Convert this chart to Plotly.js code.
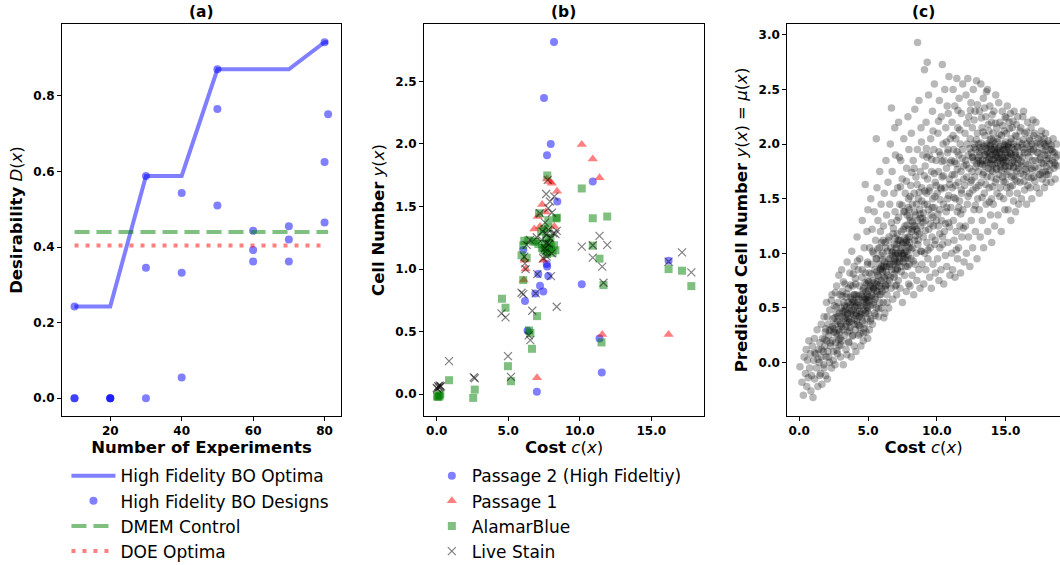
<!DOCTYPE html>
<html>
<head>
<meta charset="utf-8">
<script src="https://cdn.plot.ly/plotly-3.0.1.min.js"></script>
<style>html,body{margin:0;padding:0;background:#fff}#chart{width:1060px;height:565px}</style>
</head>
<body>
<div id="chart"></div>
<script>
// ---------- Panel (a) ----------
const designBatch = [10,10,10,20,20,20,30,30,30,40,40,40,50,50,50,60,60,60,70,70,70,80,80,80,81];
const designValue = [0.243,0,0,0,0,0,0.588,0.345,0,0.543,0.332,0.055,0.870,0.765,0.510,0.443,0.392,0.362,0.455,0.420,0.362,0.942,0.625,0.465,0.751];
const optimaBatch = [10,20,30,40,50,60,70,80,81];
const optimaValue = [0.243,0.243,0.588,0.588,0.870,0.870,0.870,0.942,0.942];
const dmemX = [10,81];
const dmemY = [0.440,0.440];
const doeX = [10,80];
const doeY = [0.404,0.404];

// ---------- Panel (b) ----------
const p2Cost = [8.2,7.5,7.97,7.71,10.91,8.43,6.05,7.69,7.72,7.1,7.8,7.22,7.45,6.89,6.17,10.14,6.35,11.38,11.54,7.0,16.21];
const p2Cell = [2.815,2.367,2.0,1.91,1.70,1.54,1.152,1.04,1.02,0.96,0.944,0.866,0.82,0.805,0.745,0.878,0.507,0.446,0.173,0.019,1.067];
const p1Cost = [10.14,10.91,11.38,7.71,8.04,7.9,8.41,7.37,7.62,7.06,6.82,7.22,8.22,7.45,6.21,6.14,6.08,11.57,16.21,7.01];
const p1Cell = [1.996,1.88,1.73,1.72,1.686,1.70,1.622,1.515,1.455,1.42,1.32,1.34,1.34,1.07,1.0,1.07,0.912,0.478,0.478,0.131];
const abCost = [7.73,10.14,10.91,11.92,8.41,7.15,7.8,8.34,7.45,7.6,7.75,7.9,8.1,8.3,7.55,7.85,8.0,7.35,7.7,8.2,7.65,7.95,7.3,7.5,7.8,7.1,6.9,6.12,6.4,6.75,5.93,6.29,6.05,10.91,11.38,11.66,6.05,4.56,4.81,7.01,6.45,6.55,6.66,11.52,4.98,5.19,0.86,2.66,2.55,0.02,0.15,0.08,0.25,0.2,16.21,17.15,17.8];
const abCell = [1.748,1.644,1.406,1.42,1.41,1.446,1.39,1.405,1.15,1.17,1.14,1.16,1.13,1.15,1.2,1.21,1.18,1.17,1.12,1.19,1.25,1.25,1.3,1.32,1.33,1.2,1.22,1.226,1.23,1.22,1.11,1.09,1.19,1.187,1.083,0.872,0.912,0.763,0.691,0.624,0.51,0.49,0.363,0.414,0.224,0.104,0.112,0.037,-0.029,-0.016,-0.01,-0.022,0.0,-0.018,1.0,0.987,0.864];
const lsCost = [0.0,0.1,0.15,0.2,0.25,0.3,0.05,0.86,2.59,2.66,4.98,5.19,4.53,4.81,5.93,6.05,6.68,8.39,6.43,6.54,6.92,7.03,7.99,6.17,6.21,10.14,10.91,10.91,11.38,11.57,11.92,11.66,16.21,17.15,17.8,7.76,7.92,8.22,7.8,8.39,8.15,7.22,7.57,7.8,7.92,7.69,7.57,7.34,6.99,6.52,6.29,6.12,7.69,8.04,7.45,7.65,8.05,7.7,8.3,7.4,7.85,7.6];
const lsCell = [0.05,0.065,0.055,0.07,0.06,0.065,0.045,0.264,0.136,0.128,0.304,0.139,0.646,0.614,0.811,0.80,0.667,0.699,0.47,0.432,0.806,0.96,0.944,1.046,1.0,1.179,1.091,1.19,1.265,1.02,1.193,0.891,1.059,1.134,0.974,1.713,1.54,1.58,1.486,1.305,1.286,1.446,1.371,1.313,1.246,1.206,1.166,1.233,1.254,1.233,1.193,1.099,1.099,1.126,1.086,1.6,1.45,1.28,1.28,1.3,1.2,1.14];

// ---------- Panel (c): [cost, predicted cell number] ----------
const predPoints = [
[0.05,-0.04],[0.2,-0.18],[0.3,-0.3],[0.35,0.05],[0.45,-0.1],[0.5,0.12],[0.55,-0.22],[0.6,0.02],[0.65,-0.14],[0.7,0.2],[0.75,-0.05],[0.8,0.08],[0.85,-0.26],[0.9,-0.12],[0.95,0.15],
[1.0,-0.32],[1.05,0.02],[1.1,0.22],[1.12,-0.15],[1.2,0.08],[1.25,-0.05],[1.3,0.3],[1.35,-0.22],[1.4,0.12],[1.45,0.0],[1.5,0.18],[1.55,-0.1],[1.6,0.35],[1.6,0.05],[1.65,-0.2],[1.7,0.22],[1.75,0.1],[1.8,-0.05],[1.8,0.42],[1.85,0.15],[1.9,0.28],[1.92,-0.12],[1.95,0.05],[1.98,0.55],[2.0,0.2],
[2.05,-0.15],[2.08,0.1],[2.1,0.35],[2.15,0.25],[2.2,0.0],[2.22,0.48],[2.28,0.15],[2.3,0.3],[2.35,-0.05],[2.38,0.62],[2.4,0.2],[2.45,0.4],[2.5,0.1],[2.52,0.28],[2.55,0.52],[2.6,-0.02],[2.62,0.35],[2.65,0.18],[2.7,0.45],[2.72,0.7],[2.75,0.25],[2.78,0.08],[2.8,0.38],[2.82,0.55],[2.85,0.3],[2.88,0.8],[2.9,0.15],[2.92,0.45],[2.95,0.62],[2.98,0.22],
[3.0,0.05],[3.02,0.35],[3.05,0.5],[3.08,0.85],[3.1,0.2],[3.12,0.42],[3.15,0.65],[3.18,0.3],[3.2,-0.02],[3.25,0.55],[3.28,0.4],[3.3,0.25],[3.32,0.72],[3.35,0.48],[3.4,0.12],[3.42,0.6],[3.45,0.35],[3.48,0.92],[3.5,0.45],[3.52,0.28],[3.55,0.55],[3.58,0.68],[3.6,0.18],[3.62,0.4],[3.65,0.5],[3.68,0.82],[3.7,0.32],[3.72,0.6],[3.75,0.45],[3.78,0.05],[3.8,0.38],[3.82,1.02],[3.85,0.55],[3.88,0.7],[3.9,0.25],[3.92,0.48],[3.95,0.62],[3.97,0.35],[3.99,0.88],[3.99,0.15],
[4.02,0.4],[4.05,0.55],[4.08,0.3],[4.1,0.72],[4.12,0.1],[4.15,0.45],[4.18,0.62],[4.2,1.15],[4.22,0.35],[4.25,0.5],[4.28,0.85],[4.3,0.25],[4.32,0.58],[4.35,0.42],[4.38,0.7],[4.4,0.95],[4.42,0.32],[4.45,0.52],[4.48,0.15],[4.5,0.62],[4.52,0.45],[4.55,0.78],[4.58,1.3],[4.6,0.38],[4.62,0.55],[4.65,0.2],[4.68,0.68],[4.7,0.48],[4.72,1.05],[4.75,0.35],[4.78,0.6],[4.8,1.63],[4.8,0.82],[4.82,0.45],[4.85,0.28],[4.88,0.55],[4.9,0.72],[4.92,1.2],[4.94,0.4],[4.95,0.62],[4.96,0.9],[4.97,0.5],[4.98,0.22],[4.99,0.75],[4.99,1.4],
[5.02,0.45],[5.05,0.6],[5.08,0.82],[5.1,0.3],[5.12,1.05],[5.15,0.52],[5.18,0.7],[5.2,1.5],[5.22,0.4],[5.25,0.9],[5.28,0.62],[5.3,1.22],[5.32,0.35],[5.35,0.75],[5.38,0.55],[5.4,1.0],[5.42,0.68],[5.45,1.38],[5.48,0.45],[5.5,0.85],[5.52,0.6],[5.55,1.12],[5.58,0.72],[5.6,2.05],[5.6,0.5],[5.62,0.95],[5.65,1.6],[5.68,0.65],[5.7,0.8],[5.72,1.3],[5.75,0.42],[5.78,0.9],[5.8,0.7],[5.82,1.05],[5.85,1.75],[5.85,0.55],[5.88,0.85],[5.9,1.2],[5.92,0.62],[5.94,0.98],[5.95,1.45],[5.96,0.75],[5.97,0.5],[5.98,1.1],[5.99,0.88],
[6.02,0.65],[6.05,0.85],[6.08,1.0],[6.1,0.55],[6.12,1.25],[6.15,0.78],[6.18,1.55],[6.2,0.92],[6.22,0.45],[6.25,1.1],[6.28,0.7],[6.3,1.85],[6.32,0.88],[6.35,1.35],[6.38,0.62],[6.4,1.02],[6.42,0.8],[6.45,1.65],[6.48,0.95],[6.5,0.5],[6.52,1.15],[6.55,0.75],[6.58,1.45],[6.6,0.9],[6.62,2.0],[6.65,1.05],[6.68,0.68],[6.7,2.33],[6.7,1.28],[6.72,0.85],[6.75,1.75],[6.78,0.98],[6.8,0.58],[6.82,1.18],[6.85,0.9],[6.88,1.55],[6.9,0.78],[6.92,1.08],[6.94,2.15],[6.95,0.95],[6.96,1.38],[6.97,0.7],[6.98,1.0],[6.99,1.9],[6.99,0.85],
[7.02,0.92],[7.05,1.05],[7.08,0.62],[7.1,1.3],[7.12,0.85],[7.15,1.6],[7.18,1.0],[7.2,0.75],[7.22,2.2],[7.25,1.12],[7.28,0.95],[7.3,1.45],[7.32,0.68],[7.35,1.02],[7.38,1.85],[7.4,0.88],[7.42,1.2],[7.45,1.0],[7.48,1.68],[7.5,0.55],[7.52,1.08],[7.55,0.92],[7.58,1.38],[7.6,2.05],[7.62,1.0],[7.65,0.8],[7.68,1.25],[7.7,1.55],[7.72,0.95],[7.75,1.1],[7.78,0.65],[7.8,1.78],[7.82,1.02],[7.85,1.35],[7.88,0.88],[7.9,2.25],[7.9,1.15],[7.92,0.98],[7.94,1.5],[7.95,0.72],[7.96,1.22],[7.97,1.95],[7.98,1.05],[7.99,0.9],[7.99,1.4],
[8.02,1.1],[8.05,0.7],[8.08,1.3],[8.1,1.62],[8.12,0.95],[8.15,2.1],[8.18,1.2],[8.2,0.8],[8.22,1.45],[8.25,1.05],[8.28,1.85],[8.3,1.25],[8.32,0.62],[8.35,1.55],[8.38,1.12],[8.4,2.32],[8.42,0.9],[8.45,1.35],[8.48,1.7],[8.5,1.0],[8.52,1.22],[8.55,0.75],[8.58,1.95],[8.6,2.93],[8.6,1.3],[8.62,1.08],[8.65,1.5],[8.68,0.85],[8.7,2.4],[8.72,1.18],[8.75,1.4],[8.78,0.68],[8.8,1.75],[8.82,1.25],[8.85,2.15],[8.88,1.02],[8.9,1.6],[8.92,0.9],[8.95,1.32],[8.98,1.9],
[9.02,1.15],[9.05,0.72],[9.08,1.45],[9.1,2.68],[9.12,1.0],[9.15,1.8],[9.18,1.3],[9.2,0.85],[9.22,2.2],[9.25,1.55],[9.28,1.1],[9.3,2.75],[9.32,1.68],[9.35,0.95],[9.38,1.4],[9.4,2.45],[9.42,1.22],[9.45,1.9],[9.48,0.78],[9.5,1.6],[9.52,1.05],[9.55,2.05],[9.58,1.35],[9.6,0.68],[9.62,1.75],[9.65,1.15],[9.68,2.3],[9.7,1.5],[9.72,0.9],[9.75,1.25],[9.78,1.95],[9.8,1.42],[9.82,2.55],[9.85,1.08],[9.88,1.65],[9.9,0.82],[9.95,1.85],[9.98,1.3],
[10.02,1.55],[10.05,0.95],[10.08,2.1],[10.1,1.25],[10.12,1.75],[10.15,0.75],[10.18,2.4],[10.2,1.4],[10.22,1.05],[10.25,1.9],[10.28,1.6],[10.3,0.85],[10.32,2.25],[10.35,1.3],[10.38,1.7],[10.4,2.73],[10.42,1.15],[10.45,2.0],[10.48,1.45],[10.5,0.72],[10.52,1.85],[10.55,1.2],[10.58,2.5],[10.6,1.6],[10.62,0.98],[10.65,2.15],[10.68,1.38],[10.7,1.78],[10.72,0.88],[10.75,2.35],[10.78,1.5],[10.8,1.1],[10.82,1.95],[10.85,1.28],[10.88,2.62],[10.9,1.68],[10.95,0.8],[10.98,2.05],
[11.02,1.42],[11.05,1.85],[11.08,1.0],[11.1,2.2],[11.12,1.6],[11.15,0.85],[11.18,2.5],[11.2,1.3],[11.22,1.95],[11.25,1.12],[11.28,1.72],[11.3,2.35],[11.32,0.78],[11.35,1.5],[11.38,2.05],[11.4,1.2],[11.42,1.82],[11.45,2.6],[11.48,1.38],[11.5,0.95],[11.52,2.15],[11.55,1.65],[11.58,1.05],[11.6,1.9],[11.62,2.42],[11.65,1.48],[11.68,1.25],[11.7,2.0],[11.72,0.82],[11.75,1.75],[11.78,2.28],[11.8,1.55],[11.82,1.15],[11.85,1.95],[11.88,2.55],[11.9,1.4],[11.95,1.8],[11.98,0.92],
[12.02,1.62],[12.05,2.1],[12.08,1.25],[12.1,1.85],[12.12,2.45],[12.15,1.0],[12.18,1.7],[12.2,2.0],[12.22,1.45],[12.25,2.6],[12.28,1.9],[12.3,1.15],[12.32,2.25],[12.35,1.78],[12.38,1.55],[12.4,0.88],[12.42,2.05],[12.45,1.65],[12.48,2.38],[12.5,1.3],[12.52,1.92],[12.55,1.75],[12.58,2.15],[12.6,1.05],[12.62,1.58],[12.65,2.5],[12.68,1.85],[12.7,1.4],[12.72,2.0],[12.75,1.7],[12.78,2.3],[12.8,1.2],[12.82,1.95],[12.85,1.6],[12.88,2.58],[12.9,1.82],[12.92,0.95],[12.95,2.1],[12.97,1.5],[12.99,1.88],
[13.02,1.75],[13.05,2.0],[13.08,1.4],[13.1,2.3],[13.12,1.9],[13.15,1.15],[13.18,1.82],[13.2,2.55],[13.22,1.65],[13.25,1.95],[13.28,2.15],[13.3,1.3],[13.32,1.85],[13.35,1.72],[13.38,2.42],[13.4,1.05],[13.42,1.98],[13.45,1.55],[13.48,2.08],[13.5,1.8],[13.52,1.9],[13.55,2.25],[13.58,1.45],[13.6,1.85],[13.62,2.0],[13.65,1.7],[13.68,2.5],[13.7,1.2],[13.72,1.92],[13.75,1.78],[13.78,2.12],[13.8,1.6],[13.82,1.88],[13.85,2.35],[13.88,1.98],[13.9,1.35],[13.92,1.82],[13.94,2.05],[13.95,1.7],[13.96,1.95],[13.97,2.2],[13.98,1.5],[13.99,1.86],[13.99,1.1],[13.6,2.48],
[14.02,1.9],[14.05,1.75],[14.08,2.1],[14.1,1.45],[14.12,1.95],[14.15,2.3],[14.18,1.82],[14.2,1.25],[14.22,2.0],[14.25,1.65],[14.28,2.45],[14.3,1.88],[14.32,1.78],[14.35,2.15],[14.38,1.55],[14.4,1.95],[14.42,2.05],[14.45,1.35],[14.48,1.85],[14.5,2.38],[14.52,1.72],[14.55,1.92],[14.58,2.2],[14.6,1.6],[14.62,1.98],[14.65,1.82],[14.68,1.2],[14.7,2.08],[14.72,1.9],[14.75,2.3],[14.78,1.7],[14.8,1.85],[14.82,2.0],[14.85,1.5],[14.88,1.78],[14.9,2.12],[14.92,1.95],[14.94,1.4],[14.95,1.88],[14.96,2.25],[14.97,1.65],[14.98,1.92],[14.99,2.02],[14.3,1.92],[14.6,1.87],
[15.02,1.85],[15.05,2.1],[15.08,1.6],[15.1,1.95],[15.12,2.35],[15.15,1.75],[15.18,1.4],[15.2,2.0],[15.22,1.88],[15.25,2.2],[15.28,1.55],[15.3,1.92],[15.32,1.8],[15.35,2.28],[15.38,1.3],[15.4,2.05],[15.42,1.7],[15.45,1.9],[15.48,2.15],[15.5,1.62],[15.52,1.85],[15.55,2.0],[15.58,1.48],[15.6,1.78],[15.62,2.3],[15.65,1.95],[15.68,1.68],[15.7,2.08],[15.72,1.38],[15.75,1.88],[15.78,2.18],[15.8,1.75],[15.82,1.98],[15.85,1.55],[15.88,2.25],[15.9,1.82],[15.95,1.45],[15.98,2.02],
[16.02,1.9],[16.05,1.65],[16.1,2.15],[16.12,1.8],[16.15,1.5],[16.2,2.0],[16.22,1.88],[16.25,2.25],[16.3,1.72],[16.32,1.95],[16.38,1.58],[16.4,2.1],[16.45,1.82],[16.5,2.0],[16.52,1.45],[16.58,1.92],[16.6,2.2],[16.65,1.7],[16.7,1.88],[16.72,2.05],[16.78,1.6],[16.8,1.95],[16.85,2.15],[16.88,1.78],[16.9,1.5],[16.92,2.0],[16.95,1.85],[16.98,2.22],[16.5,1.75],[16.3,2.3],
[17.02,1.95],[17.05,1.7],[17.1,2.1],[17.15,1.85],[17.2,2.2],[17.25,1.6],[17.3,1.92],[17.35,2.05],[17.4,1.78],[17.45,1.55],[17.5,2.0],[17.55,1.88],[17.6,2.12],[17.65,1.68],[17.7,1.95],[17.75,1.82],[17.8,2.05],[17.82,1.6],[17.85,1.9],[17.88,1.75],[17.9,2.1],[17.92,1.98],[17.95,1.65],[17.98,1.85],[17.5,1.72],
[18.05,1.9],[18.1,1.72],[18.15,2.0],[18.2,1.82],[18.3,1.65],[18.35,1.95],[18.4,1.85],[18.45,2.05],[18.5,1.78],[18.55,1.92],[18.6,1.68],[18.65,1.88],[18.7,2.0],[18.75,1.8],[18.8,1.9],
[6.6,0.95],[6.8,1.02],[7.0,0.98],[7.1,1.08],[7.25,0.98],[7.4,1.05],[7.55,1.1],[7.7,1.02],[7.85,1.08],[6.9,0.92],[7.15,0.92],[7.35,1.12],[7.6,0.95],[7.8,1.12],[8.0,1.15],[8.2,1.22],[8.4,1.25],[8.6,1.2],[8.8,1.32],[9.0,1.28],
[1.63,0.12],[2.41,0.33],[3.17,0.47],[4.29,0.61],[5.06,0.74],[5.91,0.86],[6.73,1.01],[2.87,0.21],[3.66,0.29],[4.53,0.41],[5.37,0.53],[6.24,0.67],[1.93,0.31],[2.69,0.51],[3.44,0.63],[4.08,0.77],[4.97,0.92],[5.71,1.04],[6.49,1.12],[2.14,0.05],[3.03,0.16],[3.86,0.24],[4.71,0.31],[5.52,0.43],[6.38,0.55],[1.37,0.03],[2.26,0.18],[3.51,0.38],[4.64,0.66],[5.83,0.62],[6.91,0.81],[1.78,-0.02],[2.58,0.41],[3.29,0.52],[4.17,0.52],[4.41,0.26],[5.24,0.81],[6.05,0.94],[6.62,0.78],[7.18,1.12],[1.12,0.09],[1.49,-0.12],[2.03,0.42],[2.95,0.28],[3.74,0.71],[3.97,0.44],[4.86,0.58],[5.63,0.83],[6.15,0.41],[6.84,1.23],[7.41,0.83],[2.33,0.57],[3.11,0.61],[3.59,0.19],[4.34,0.34],[4.79,0.73],[5.17,0.38],[5.96,0.68],[6.56,0.88],[7.06,0.71],[2.74,0.11],[3.83,0.58],[4.58,0.85],[5.41,0.67],[6.27,1.05],[7.29,0.92],[1.86,0.21],[2.47,0.02],[3.38,0.33],[4.23,0.93],[5.09,0.56],[5.77,0.49],[6.44,0.72],[7.53,0.98],[2.19,0.29],[3.21,0.74],[4.02,0.62],[4.93,0.47],[5.58,0.95],[6.33,0.83],[7.12,0.86],[7.67,1.14],[3.92,0.81],[4.66,0.27],[5.33,1.02],[6.09,1.12],[6.97,1.14],[7.84,0.96],[2.62,0.64],[3.47,0.07],
[2.53,0.31],[2.81,0.42],[3.07,0.33],[3.24,0.46],[3.46,0.51],[3.63,0.37],[3.79,0.47],[3.94,0.56],[4.11,0.43],[4.27,0.55],[4.39,0.47],[4.57,0.6],[4.69,0.52],[4.84,0.65],[4.98,0.57],[5.13,0.68],[5.29,0.61],[5.44,0.73],[5.59,0.66],[5.76,0.79],[5.89,0.72],[6.07,0.83],[6.21,0.77],[6.36,0.9],[2.68,0.27],[2.97,0.36],[3.36,0.41],[3.71,0.53],[4.04,0.51],[4.46,0.44],[4.77,0.58],[5.02,0.66],[5.36,0.69],[5.68,0.74],[6.14,0.88],[3.53,0.44],[4.19,0.38],[4.91,0.51],[5.51,0.58],[6.29,0.71],
[7.23,1.33],[7.57,1.22],[7.92,1.42],[8.13,1.04],[8.37,1.38],[8.64,1.12],[8.91,1.48],[9.17,1.21],[9.43,1.57],[9.71,1.33],[9.96,1.62],[10.21,1.18],[10.47,1.71],[10.73,1.42],[10.97,1.83],[11.23,1.51],[11.49,1.77],[11.74,1.36],[11.96,1.68],[7.36,1.61],[7.74,0.88],[8.06,1.52],[8.29,0.93],[8.57,1.63],[8.83,1.02],[9.09,1.71],[9.36,1.03],[9.63,1.86],[9.89,1.12],[10.16,1.93],[10.41,1.08],[10.69,2.02],[10.92,1.24],[11.18,2.08],[11.41,1.03],[11.67,2.13],[11.92,1.23],[7.47,1.44],[7.83,1.26],[8.18,1.74],[8.46,1.16],[8.72,1.56],[9.02,1.37],[9.28,1.88],[9.54,1.27],[9.81,1.73],[10.07,1.36],[10.33,1.59],[10.62,1.27],[10.86,1.53],[11.11,1.72],[11.36,1.62],[11.59,1.42],[11.84,1.87],[7.12,1.18],[7.66,1.38],[8.22,1.29],[8.78,1.36],[9.31,1.45],[9.86,1.52],[10.38,1.84],[10.94,1.63],[11.47,1.93],[8.01,1.33],[8.52,1.45],[9.12,1.57],[9.66,1.42],[10.24,1.49],[10.78,1.92],[11.29,1.84],[11.78,1.58],[8.35,1.78],[9.24,1.96],[10.12,2.21],[10.83,2.28],[11.53,2.31],[9.72,2.12],[8.88,2.02],[7.79,1.66],[7.28,1.88],
[12.14,1.81],[12.39,1.96],[12.61,1.88],[12.87,2.04],[13.13,1.97],[13.36,2.11],[13.63,1.93],[13.87,2.04],[14.13,1.86],[14.37,2.02],[14.63,1.94],[14.87,1.83],[15.13,1.98],[15.37,1.91],[15.63,1.84],[15.87,1.97],[16.13,1.84],[16.37,1.92],[16.63,1.81],[16.87,1.93],[17.13,1.79],[17.37,1.92],[17.63,1.83],[17.87,1.94],[18.13,1.87],[18.42,1.93],
[12.27,1.52],[12.53,1.67],[12.79,1.44],[13.04,1.62],[13.29,1.51],[13.56,1.63],[13.81,1.47],[14.06,1.61],[14.33,1.68],[14.58,1.52],[14.84,1.66],[15.07,1.72],[15.34,1.61],[15.58,1.71],[15.83,1.66],[16.08,1.73],[16.34,1.66],[16.61,1.62],[16.86,1.69],[17.12,1.66],[17.41,1.72],[17.68,1.74],[17.94,1.72],[18.21,1.76],[18.53,1.83],
[12.18,2.19],[12.44,2.31],[12.71,2.22],[12.96,2.36],[13.24,2.24],[13.47,2.33],[13.73,2.18],[14.02,2.27],[14.27,2.19],[14.54,2.09],[14.79,2.17],[15.04,2.24],[15.27,2.14],[15.53,2.21],[15.79,2.07],[16.04,2.12],[16.28,2.04],[16.54,2.11],[16.79,2.03],[17.04,2.08],[17.28,2.01],[17.56,2.07],[17.82,2.0],[18.08,2.03],[18.31,1.99],
[13.16,1.84],[13.41,1.74],[13.69,1.99],[13.93,1.76],[14.18,1.97],[14.42,1.83],[14.69,1.76],[14.93,1.99],[15.18,1.79],[15.44,1.97],[15.69,1.9],[15.94,1.78],[16.19,1.97],[16.44,1.77],[16.69,1.98],[16.94,1.76],[17.19,1.98],[17.46,1.86],[17.72,2.01],[17.97,1.79],[18.24,1.95],[18.61,1.81],
[12.58,1.88],[12.83,1.79],[13.07,1.93],[13.33,1.81],[13.58,1.96],[13.79,1.86],[14.03,1.81],[14.21,1.93],[14.44,1.88],[14.62,1.79],[14.81,1.95],[15.03,1.84],[15.23,1.97],[15.46,1.83],[15.71,1.92],[15.92,1.86],[12.71,1.97],[13.01,1.85],[13.46,1.9],[13.91,1.99],[14.34,1.77],[14.76,1.88],[15.16,1.9],[15.57,1.79],[13.21,2.01],[13.66,1.83],[14.09,2.03],[14.52,1.96],[14.98,1.8],[15.39,2.02],[13.86,1.92],[14.27,1.9]
];

// ---------- labels ----------
const panelTitles = ['(a)','(b)','(c)'];
const legendNamesA = ['High Fidelity BO Optima','High Fidelity BO Designs','DMEM Control','DOE Optima'];
const legendNamesB = ['Passage 2 (High Fideltiy)','Passage 1','AlamarBlue','Live Stain'];

const FONT = 'DejaVu Sans, sans-serif';
const blue = 'rgba(0,0,255,0.5)', green = 'rgba(0,128,0,0.5)', red = 'rgba(255,0,0,0.5)', grey = 'rgba(0,0,0,0.5)';

const traces = [
  {x: optimaBatch, y: optimaValue, type:'scatter', mode:'lines', name: legendNamesA[0], line:{color:blue, width:4}, xaxis:'x', yaxis:'y', legend:'legend'},
  {x: designBatch, y: designValue, type:'scatter', mode:'markers', name: legendNamesA[1], marker:{color:blue, size:8}, xaxis:'x', yaxis:'y', legend:'legend'},
  {x: dmemX, y: dmemY, type:'scatter', mode:'lines', name: legendNamesA[2], line:{color:green, width:4, dash:'15px,7px'}, xaxis:'x', yaxis:'y', legend:'legend'},
  {x: doeX, y: doeY, type:'scatter', mode:'lines', name: legendNamesA[3], line:{color:red, width:4, dash:'4px,7px'}, xaxis:'x', yaxis:'y', legend:'legend'},

  {x: p2Cost, y: p2Cell, type:'scatter', mode:'markers', name: legendNamesB[0], marker:{color:blue, size:8, symbol:'circle'}, xaxis:'x2', yaxis:'y2', legend:'legend2'},
  {x: p1Cost, y: p1Cell, type:'scatter', mode:'markers', name: legendNamesB[1], marker:{color:red, size:9, symbol:'triangle-up'}, xaxis:'x2', yaxis:'y2', legend:'legend2'},
  {x: abCost, y: abCell, type:'scatter', mode:'markers', name: legendNamesB[2], marker:{color:green, size:8, symbol:'square'}, xaxis:'x2', yaxis:'y2', legend:'legend2'},
  {x: lsCost, y: lsCell, type:'scatter', mode:'markers', name: legendNamesB[3], marker:{color:grey, size:8, symbol:'x-thin', line:{color:grey, width:1.2}}, xaxis:'x2', yaxis:'y2', legend:'legend2'},

  {x: predPoints.map(p=>p[0]), y: predPoints.map(p=>p[1]), type:'scatter', mode:'markers', showlegend:false, marker:{color:'rgba(0,0,0,0.28)', size:7.5}, xaxis:'x3', yaxis:'y3'}
];

const tickFont = {family: FONT, size: 12, color:'#000', weight:'bold'};
const titleFont = {family: FONT, size: 16.5, color:'#000'};
function ax(extra){
  return Object.assign({showline:true, mirror:true, linecolor:'#000', linewidth:1, ticks:'outside', ticklen:4, tickcolor:'#000', tickwidth:1,
    showgrid:false, zeroline:false, tickfont:tickFont, automargin:false}, extra);
}

const layout = {
  width:1060, height:565, margin:{l:0,r:0,t:0,b:0, autoexpand:false}, paper_bgcolor:'#fff', plot_bgcolor:'#fff',
  font:{family:FONT, color:'#000'},
  xaxis: ax({domain:[0.0585,0.3217], range:[6.5,84.6], tickvals:[20,40,60,80], anchor:'y',
     title:{text:'<b>Number of Experiments</b>', font:titleFont, standoff:4}}),
  yaxis: ax({domain:[0.2637,0.9575], range:[-0.047,0.99], tickvals:[0,0.2,0.4,0.6,0.8], tickformat:'.1f', anchor:'x',
     title:{text:'<b>Desirability</b> <i>D</i>(<i>x</i>)', font:titleFont, standoff:6}}),
  xaxis2: ax({domain:[0.4,0.6642], range:[-0.89,18.69], tickvals:[0,5,10,15], tickformat:'.1f', anchor:'y2',
     title:{text:'<b>Cost</b> <i>c</i>(<i>x</i>)', font:titleFont, standoff:4}}),
  yaxis2: ax({domain:[0.2637,0.9575], range:[-0.174,2.958], tickvals:[0,0.5,1,1.5,2,2.5], tickformat:'.1f', anchor:'x2',
     title:{text:'<b>Cell Number</b> <i>y</i>(<i>x</i>)', font:titleFont, standoff:6}}),
  xaxis3: ax({domain:[0.7427,1.0], range:[-0.87,18.95], tickvals:[0,5,10,15], tickformat:'.1f', anchor:'y3',
     title:{text:'<b>Cost</b> <i>c</i>(<i>x</i>)', font:titleFont, standoff:4}}),
  yaxis3: ax({domain:[0.2637,0.9575], range:[-0.49,3.1], tickvals:[0,0.5,1,1.5,2,2.5,3], tickformat:'.1f', anchor:'x3',
     title:{text:'<b>Predicted Cell Number</b> <i>y</i>(<i>x</i>) = <i>μ</i>(<i>x</i>)', font:titleFont, standoff:6}}),
  legend: {x:0.0627, xanchor:'left', y:0.189, yanchor:'top', font:{family:FONT, size:17, color:'#000'}, bgcolor:'rgba(0,0,0,0)', itemwidth:44},
  legend2: {x:0.4074, xanchor:'left', y:0.189, yanchor:'top', font:{family:FONT, size:17, color:'#000'}, bgcolor:'rgba(0,0,0,0)'},
  annotations: panelTitles.map((t,i)=>({text:'<b>'+t+'</b>', xref:'paper', yref:'paper', x:[0.19,0.532,0.871][i], y:(565-12)/565, xanchor:'center', yanchor:'middle', showarrow:false, font:{family:FONT, size:15.5, color:'#000'}})),
  showlegend:true
};

Plotly.newPlot('chart', traces, layout, {staticPlot:true, displayModeBar:false});
</script>
</body>
</html>
